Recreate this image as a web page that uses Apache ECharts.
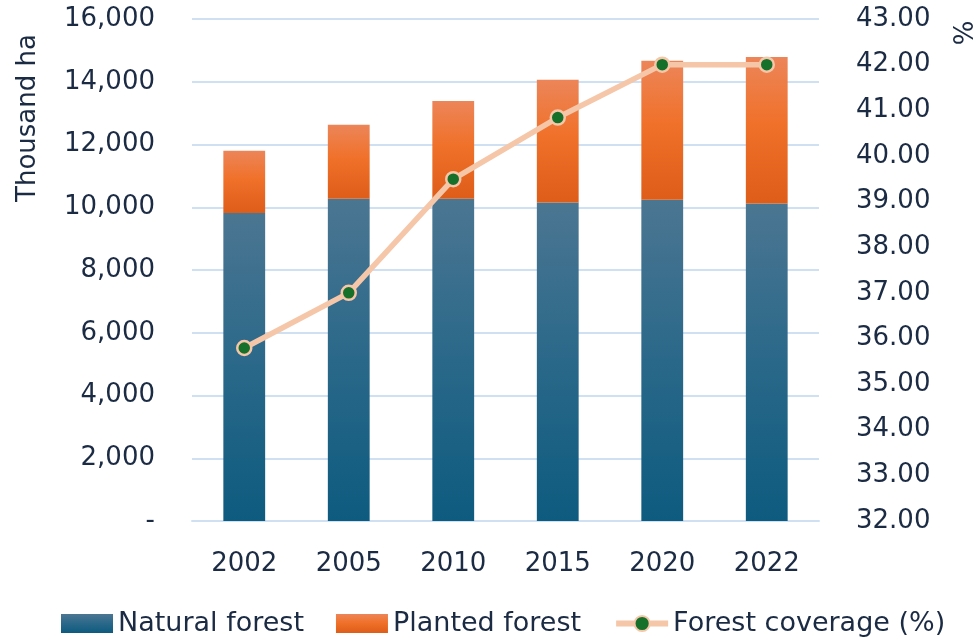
<!DOCTYPE html>
<html>
<head>
<meta charset="utf-8">
<script src="https://cdn.jsdelivr.net/npm/echarts@6/dist/echarts.min.js"></script>
<style>
html,body{margin:0;padding:0;background:#fff;}
#chart{width:980px;height:642px;}
</style>
</head>
<body>
<div id="chart"></div>
<script>
var years = ['2002', '2005', '2010', '2015', '2020', '2022'];
var naturalForest = [9820, 10270, 10270, 10150, 10240, 10120];
var plantedForest = [1980, 2360, 3120, 3910, 4430, 4670];
var forestCoverage = [35.79, 37.00, 39.49, 40.84, 42.00, 42.00];

var textColor = '#1b2b44';
var font = 'DejaVu Sans';
var gridColor = '#cfe0f3';
var lineColor = '#f5c6a8';

var chart = echarts.init(document.getElementById('chart'), null, {renderer: 'canvas'});
var option = {
  animation: false,
  textStyle: {fontFamily: font, color: textColor},
  grid: {left: 192, right: 161, top: 19, bottom: 121},
  legend: {
    left: 56,
    bottom: 0,
    itemWidth: 52,
    itemHeight: 19,
    itemGap: 32,
    textStyle: {fontFamily: font, fontSize: 27, color: textColor},
    lineStyle: {width: 6},
    data: [
      {name: 'Natural forest', icon: 'rect'},
      {name: 'Planted forest', icon: 'rect'},
      {name: 'Forest coverage (%)'}
    ]
  },
  xAxis: {
    type: 'category',
    data: years,
    axisLine: {show: true, lineStyle: {color: gridColor, width: 2}},
    axisTick: {show: false},
    axisLabel: {fontFamily: font, fontSize: 26, color: textColor, margin: 30}
  },
  yAxis: [
    {
      type: 'value',
      min: 0,
      max: 16000,
      interval: 2000,
      axisLine: {show: false},
      axisTick: {show: false},
      splitLine: {show: true, lineStyle: {color: gridColor, width: 2}},
      axisLabel: {
        fontFamily: font, fontSize: 26, color: textColor, margin: 37,
        formatter: function (v) { return v === 0 ? '-' : v.toLocaleString('en-US'); }
      }
    },
    {
      type: 'value',
      min: 32,
      max: 43,
      interval: 1,
      position: 'right',
      axisLine: {show: false},
      axisTick: {show: false},
      splitLine: {show: false},
      axisLabel: {
        fontFamily: font, fontSize: 26, color: textColor, margin: 37,
        formatter: function (v) { return v.toFixed(2); }
      }
    }
  ],
  graphic: [
    {
      type: 'text',
      x: 28, y: 118,
      rotation: Math.PI / 2,
      style: {text: 'Thousand ha', fontFamily: font, fontSize: 26, fill: textColor, align: 'center', verticalAlign: 'middle'}
    },
    {
      type: 'text',
      x: 966, y: 33,
      rotation: Math.PI / 2,
      style: {text: '%', fontFamily: font, fontSize: 26, fill: textColor, align: 'center', verticalAlign: 'middle'}
    }
  ],
  series: [
    {
      name: 'Natural forest',
      type: 'bar',
      stack: 'forest',
      barWidth: '40%',
      data: naturalForest,
      itemStyle: {
        color: new echarts.graphic.LinearGradient(0, 0, 0, 1, [
          {offset: 0, color: '#4b7692'},
          {offset: 0.5, color: '#2a6889'},
          {offset: 1, color: '#0d5b7f'}
        ])
      }
    },
    {
      name: 'Planted forest',
      type: 'bar',
      stack: 'forest',
      barWidth: '40%',
      data: plantedForest,
      itemStyle: {
        color: new echarts.graphic.LinearGradient(0, 0, 0, 1, [
          {offset: 0, color: '#ec8559'},
          {offset: 0.45, color: '#f0712a'},
          {offset: 1, color: '#de5d19'}
        ])
      }
    },
    {
      name: 'Forest coverage (%)',
      type: 'line',
      yAxisIndex: 1,
      data: forestCoverage,
      symbol: 'circle',
      symbolSize: 14,
      lineStyle: {color: lineColor, width: 5.5},
      itemStyle: {color: '#17702a', borderColor: lineColor, borderWidth: 2.5},
      z: 5
    }
  ]
};
chart.setOption(option);
</script>
</body>
</html>
